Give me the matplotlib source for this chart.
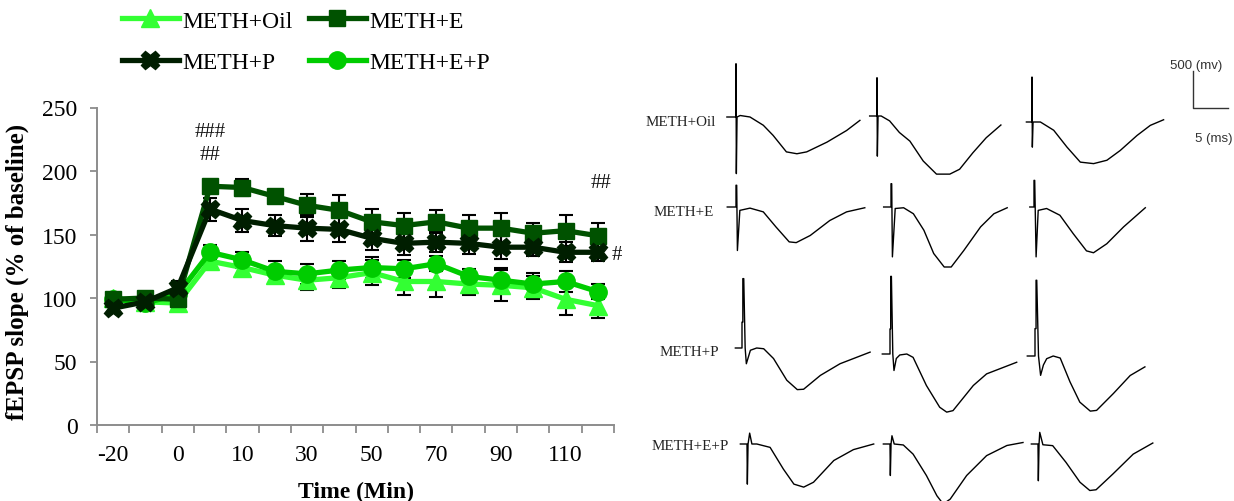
import matplotlib
matplotlib.use("Agg")
import matplotlib.pyplot as plt
import numpy as np

plt.rcParams["font.family"] = ["Liberation Serif", "DejaVu Serif"]

W, H = 1234, 502

# ---------------- time course (fEPSP slope, % of baseline) ----------------
time_points = [-20, -10, 0, 5, 10, 20, 30, 40, 50, 60, 70, 80, 90, 100, 110, 120]
tick_labels = ["-20", "", "0", "", "10", "", "30", "", "50", "", "70", "", "90", "", "110", ""]

meth_oil = [100, 97, 96, 129, 124, 118, 114, 116, 120, 113, 113, 111, 110, 108, 99, 94]
meth_oil_err = [3, 3, 5, 6, 5, 6, 8, 8, 10, 11, 12, 9, 12, 9, 12, 10]
meth_e = [99, 100, 99, 188, 187, 180, 173, 169, 160, 157, 160, 155, 155, 151, 153, 149]
meth_e_err = [3, 3, 4, 4, 7, 4, 9, 12, 10, 10, 9, 10, 12, 8, 12, 10]
meth_p = [92, 97, 108, 170, 161, 157, 155, 154, 147, 143, 144, 143, 140, 140, 136, 136]
meth_p_err = [4, 3, 5, 9, 9, 8, 10, 10, 9, 9, 8, 8, 9, 7, 8, 7]
meth_ep = [99, 96, 103, 136, 130, 121, 119, 122, 124, 123, 127, 117, 114, 111, 113, 105]
meth_ep_err = [3, 3, 4, 6, 6, 8, 8, 7, 8, 7, 6, 6, 10, 9, 8, 6]

# significance marks: (category index, y value, text)
sig_marks = [(3, 231, "###"), (3, 213, "##"), (15.1, 191, "##"), (15.6, 134, "#")]

# ---------------- sample traces (t in ms from stimulus, v in mV) ----------------
row_labels = ["METH+Oil", "METH+E", "METH+P", "METH+E+P"]

oil_t = [
    [-1.3, 0, 0, 0.05, 0.15, 0.6, 2.0, 3.9, 5.3, 7.2, 8.7, 10.1, 13.0, 15.8, 17.7],
    [-1.05, 0, 0, 0.05, 0.15, 0.6, 1.8, 3.2, 4.7, 6.6, 8.5, 10.4, 11.8, 13.7, 15.6, 17.7],
    [-0.8, 0, 0, 0.05, 0.15, 1.2, 3.1, 5.0, 6.9, 8.8, 10.7, 12.6, 15.0, 16.9, 18.8],
]
oil_v = [
    [0, 0, 710, -755, 0, 20, 0, -110, -245, -465, -490, -465, -335, -180, -45],
    [0, 0, 510, -535, 0, 0, -65, -220, -335, -600, -775, -775, -710, -490, -290, -120],
    [0, 0, 600, -335, 0, 0, -110, -335, -535, -555, -510, -380, -180, -45, 30],
]
e_t = [
    [-1.25, 0, 0, 0.1, 0.2, 0.55, 2.0, 3.9, 5.7, 7.6, 8.6, 10.6, 13.4, 15.8, 18.4],
    [-1.05, 0, 0, 0.1, 0.2, 0.6, 1.8, 3.2, 4.7, 6.1, 7.6, 8.6, 10.4, 12.8, 14.7, 16.6],
    [-0.6, 0, 0, 0.1, 0.3, 0.6, 1.8, 3.7, 5.6, 7.5, 8.5, 10.4, 12.8, 15.9],
]
e_v = [
    [0, 0, 290, 290, -580, -45, -15, -65, -265, -465, -475, -380, -180, -65, -10],
    [0, 0, 310, 310, -665, -20, -10, -90, -310, -620, -800, -800, -580, -265, -90, -10],
    [0, 0, 355, 355, -665, -45, -20, -110, -355, -585, -610, -490, -265, -10],
]
p_t = [
    [-0.95, 0, 0, 0.12, 0.12, 0.25, 0.45, 0.62, 1.2, 2.1, 3.1, 4.5, 6.4, 7.9, 8.8, 11.2, 14.0, 18.3],
    [-1.1, 0, 0, 0.1, 0.1, 0.2, 0.4, 0.57, 0.9, 1.4, 2.4, 3.3, 5.2, 7.1, 8.1, 9.0, 11.9, 13.8, 18.1],
    [-1.1, 0, 0, 0.15, 0.15, 0.25, 0.5, 0.8, 1.2, 1.67, 2.6, 3.6, 5.0, 6.4, 7.9, 8.8, 11.2, 13.6, 15.7],
]
p_v = [
    [0, 0, 345, 345, 925, 925, 0, -210, -30, 0, -10, -140, -430, -555, -550, -365, -210, -55],
    [0, 0, 335, 335, 1035, 1035, 0, -220, -60, -13, 0, -45, -420, -710, -775, -755, -420, -265, -110],
    [0, 0, 365, 365, 1010, 1010, 0, -258, -120, -36, 0, -27, -345, -615, -735, -725, -500, -260, -145],
]
ep_t = [
    [-0.95, 0, 0.05, 0.15, 0.38, 0.7, 1.4, 3.3, 5.2, 6.7, 8.1, 9.5, 12.4, 15.2, 18.1],
    [-0.95, 0, 0.05, 0.15, 0.28, 0.6, 1.9, 3.3, 5.2, 6.7, 7.6, 8.6, 10.95, 13.8, 16.7, 19.0],
    [-0.95, 0, 0.05, 0.15, 0.25, 0.7, 2.1, 4.0, 6.0, 7.4, 8.3, 10.7, 13.6, 16.4],
]
ep_v = [
    [0, 0, -535, 0, 145, 0, 0, -45, -335, -535, -575, -510, -220, -75, 0],
    [0, 0, -420, 0, 110, 0, -13, -135, -420, -690, -800, -735, -420, -155, -20, 20],
    [0, 0, -490, 0, 155, -10, -22, -245, -510, -620, -610, -400, -135, 13],
]
trace_t = [oil_t, e_t, p_t, ep_t]
trace_v = [oil_v, e_v, p_v, ep_v]

# layout of the traces panel (figure pixels)
PX_MS, PX_MV = 7.0, 0.075
STIM_X = [[736, 877, 1032], [736, 891, 1034], [742, 890, 1035], [747, 890, 1038]]
STIM_Y = [[118, 117, 123], [208, 208, 208], [349, 355, 357], [445, 445, 445]]
LABEL_X = [646, 654, 660, 652]
LABEL_Y = [122, 213, 352, 447]

fig = plt.figure(figsize=(W / 100, H / 100), dpi=100)

# ---------------- left: time course ----------------
ax = fig.add_axes([97 / W, 1 - 426 / H, (614 - 97) / W, (426 - 108.5) / H])
x = np.arange(len(time_points))

series = [
    ("METH+Oil", meth_oil, meth_oil_err, "#33FF33", "^", 13, 3),
    ("METH+E+P", meth_ep, meth_ep_err, "#00CC00", "o", 12.5, 4),
    ("METH+E", meth_e, meth_e_err, "#005200", "s", 11.5, 5),
    ("METH+P", meth_p, meth_p_err, "#001E00", "X", 13, 6),
]
handles = {}
for name, y, err, color, mk, ms, z in series:
    ax.errorbar(x, y, yerr=err, fmt="none", ecolor="black", elinewidth=1.5,
                capsize=5, capthick=1.5, zorder=1)
    (ln,) = ax.plot(x, y, color=color, lw=3.8, marker=mk, markersize=ms,
                    markeredgecolor=color, zorder=z, label=name)
    handles[name] = ln

for xi, yi, s in sig_marks:
    ax.text(xi, yi, s, ha="center", va="center", fontsize=15, color="#111111")

ax.set_xlim(-0.5, len(time_points) - 0.5)
ax.set_ylim(0, 250)
ax.set_yticks([0, 50, 100, 150, 200, 250])
ax.set_xticks(np.arange(-0.5, len(time_points), 1.0))
ax.set_xticklabels([])
ax.set_xticks(x, minor=True)
ax.set_xticklabels(tick_labels, minor=True)
ax.tick_params(axis="x", which="major", direction="out", length=6, width=1.3, color="#8c8c8c")
ax.tick_params(axis="x", which="minor", length=0, pad=14, labelsize=17)
ax.tick_params(axis="y", direction="out", length=5, width=1.3, color="#8c8c8c", pad=9, labelsize=17)
for side in ["top", "right"]:
    ax.spines[side].set_visible(False)
for side in ["left", "bottom"]:
    ax.spines[side].set_color("#8c8c8c")
    ax.spines[side].set_linewidth(1.4)

fig.text(17 / W, 1 - 272 / H, "fEPSP slope (% of baseline)", rotation=90,
         ha="center", va="center", fontsize=18, fontweight="bold")
fig.text(356 / W, 1 - 492 / H, "Time (Min)", ha="center", va="center",
         fontsize=17, fontweight="bold")

order = ["METH+Oil", "METH+P", "METH+E", "METH+E+P"]
fig.legend([handles[k] for k in order], order, loc="upper left",
           bbox_to_anchor=(122 / W, 1 - 11 / H), ncol=2, frameon=False,
           fontsize=17, handlelength=2.4, handletextpad=0.15, columnspacing=0.7,
           labelspacing=0.85, borderpad=0, borderaxespad=0)

# ---------------- right: sample traces ----------------
axt = fig.add_axes([620 / W, 0, (W - 620) / W, 1])
axt.set_xlim(0, (W - 620) / PX_MS)
axt.set_ylim(-H / PX_MV, 0)
axt.axis("off")

for r in range(4):
    for c in range(3):
        t0 = (STIM_X[r][c] - 620) / PX_MS
        v0 = -STIM_Y[r][c] / PX_MV
        tt = np.array(trace_t[r][c]) + t0
        vv = np.array(trace_v[r][c]) + v0
        axt.plot(tt, vv, color="black", lw=1.0, clip_on=False)
    fig.text(LABEL_X[r] / W, 1 - LABEL_Y[r] / H, row_labels[r], ha="left",
             va="center", fontsize=10.8, color="#222222")

# scale bar: 500 mV / 5 ms
sb_t0 = (1193 - 620) / PX_MS
sb_v0 = -109 / PX_MV
axt.plot([sb_t0, sb_t0, sb_t0 + 5], [sb_v0 + 500, sb_v0, sb_v0], color="#333333", lw=1.0)
fig.text(1170 / W, 1 - 66 / H, "500 (mv)", ha="left", va="center", fontsize=9.5,
         color="#333333", family=["Liberation Sans", "DejaVu Sans"])
fig.text(1195 / W, 1 - 139 / H, "5 (ms)", ha="left", va="center", fontsize=9.5,
         color="#333333", family=["Liberation Sans", "DejaVu Sans"])

fig.savefig("out.png", dpi=100)
